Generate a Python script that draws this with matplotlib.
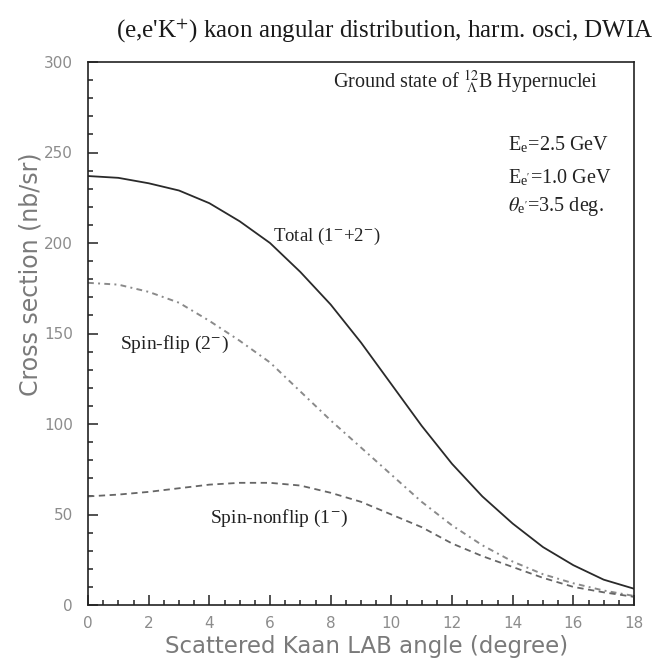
import matplotlib
matplotlib.use("Agg")
import matplotlib.pyplot as plt
from matplotlib.ticker import MultipleLocator

# Kaon LAB scattering angle (degree)
angle = [0, 1, 2, 3, 4, 5, 6, 7, 8, 9, 10, 11, 12, 13, 14, 15, 16, 17, 18]

# Cross sections (nb/sr)
total = [237, 236, 233, 229, 222, 212, 200, 184, 166, 145, 122, 99, 78, 60, 45, 32, 22, 14, 9]
spin_flip = [178, 177, 173, 167, 157, 146, 134, 118, 102, 87, 72, 57, 44, 33, 24, 17, 12, 8, 5]
spin_nonflip = [60, 61, 62.5, 64.5, 66.5, 67.5, 67.5, 66, 62, 57, 50, 43, 34, 27, 21, 15, 10, 7, 4.5]

x_ticks = [0, 2, 4, 6, 8, 10, 12, 14, 16, 18]
y_ticks = [0, 50, 100, 150, 200, 250, 300]

W, H = 659, 661
fig = plt.figure(figsize=(W / 100, H / 100), dpi=100)
fig.patch.set_facecolor("white")

L, R, T, B = 88, 634, 62, 605
ax = fig.add_axes([L / W, 1 - B / H, (R - L) / W, (B - T) / H])

ax.plot(angle, total, color="#2a2a2a", lw=1.3, ls="-")
ax.plot(angle, spin_flip, color="#8a8a8a", lw=1.4, dashes=(3, 2.2, 1, 2.2))
ax.plot(angle, spin_nonflip, color="#666666", lw=1.3, dashes=(3.5, 2.5))

ax.set_xlim(0, 18)
ax.set_ylim(0, 300)
ax.set_xticks(x_ticks)
ax.set_yticks(y_ticks)
ax.xaxis.set_minor_locator(MultipleLocator(0.5))
ax.yaxis.set_minor_locator(MultipleLocator(10))

for s in ax.spines.values():
    s.set_color("#222222")
    s.set_linewidth(1.2)

ax.tick_params(axis="both", which="both", direction="in", top=False, right=False,
               color="#222222", width=1.1)
ax.tick_params(axis="both", which="major", length=7)
ax.tick_params(axis="both", which="minor", length=3.8)
ax.tick_params(axis="y", which="major", pad=11, labelsize=11, labelcolor="#8c8c8c")
ax.tick_params(axis="x", which="major", pad=8, labelsize=11, labelcolor="#8c8c8c")

ax.set_xlabel("Scattered Kaan LAB angle (degree)", fontsize=16.5, color="#7a7a7a")
ax.set_ylabel("Cross section (nb/sr)", fontsize=17, color="#7a7a7a")
ax.xaxis.set_label_coords(0.51, -0.056)
ax.yaxis.set_label_coords(-0.084, 0.61)

serif = "Liberation Serif"
fig.text(385 / W, 1 - 31 / H, r"(e,e'K$^{+}$) kaon angular distribution, harm. osci, DWIA",
         ha="center", va="center", fontsize=18, family=serif, color="#1a1a1a",
         math_fontfamily="stix")

tx = dict(transform=ax.transAxes, family=serif, color="#222222", math_fontfamily="stix")
ax.text(0.449, 0.963, r"Ground state of $^{12}_{\ \Lambda}$B Hypernuclei", ha="left", va="center",
        fontsize=14.5, **tx)
ax.text(0.769, 0.847, r"E$_{\mathregular{e}}$=2.5 GeV", ha="left", va="center", fontsize=14.5, **tx)
ax.text(0.769, 0.786, r"E$_{\mathregular{e'}}$=1.0 GeV", ha="left", va="center", fontsize=14.5, **tx)
ax.text(0.769, 0.733, r"$\theta_{\mathregular{e'}}$=3.5 deg.", ha="left", va="center", fontsize=14.5, **tx)

ax.text(0.339, 0.678, r"Total (1$^{-}$+2$^{-}$)", ha="left", va="center", fontsize=13.5, **tx)
ax.text(0.0586, 0.479, r"Spin-flip (2$^{-}$)", ha="left", va="center", fontsize=14, **tx)
ax.text(0.2234, 0.160, r"Spin-nonflip (1$^{-}$)", ha="left", va="center", fontsize=14, **tx)

fig.savefig("out.png", dpi=100, facecolor="white")
